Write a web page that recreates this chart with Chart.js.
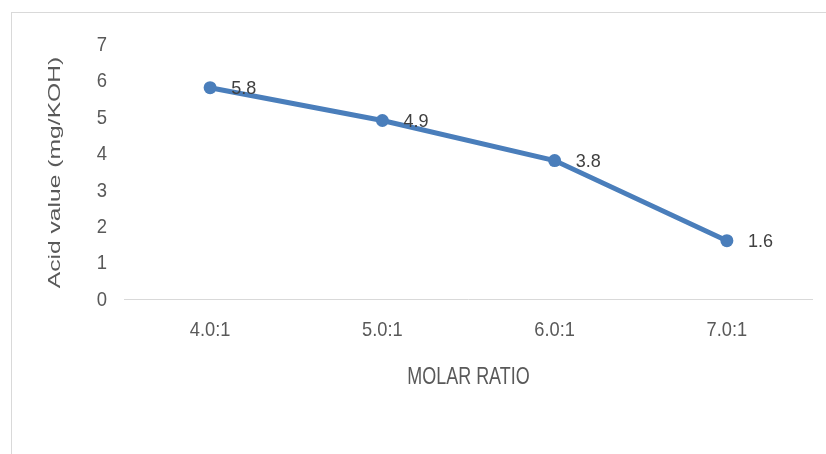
<!DOCTYPE html>
<html>
<head>
<meta charset="utf-8">
<script src="https://cdn.jsdelivr.net/npm/chart.js@4"></script>
<style>
  html, body { margin: 0; padding: 0; background: #fff; }
  #wrap { position: relative; width: 826px; height: 454px; overflow: hidden; }
  #frame { position: absolute; left: 11px; top: 12px; width: 900px; height: 600px; border: 1px solid #d9d9d9; box-sizing: border-box; }
  canvas { position: absolute; left: 0; top: 0; }
</style>
</head>
<body>
<div id="wrap">
  <div id="frame"></div>
  <canvas id="chart" width="826" height="454"></canvas>
</div>
<script>
const ratios = ['4.0:1', '5.0:1', '6.0:1', '7.0:1'];
const acidValues = [5.8, 4.9, 3.8, 1.6];
const yMin = 0, yMax = 7, yStep = 1;
const xTitle = 'MOLAR RATIO';
const yTitle = 'Acid value (mg/KOH)';

const lineColor = '#4a7ebb';
const textColor = '#595959';
const sans = '"Liberation Sans", Arial, sans-serif';
const clear = 'rgba(0,0,0,0)';

// the source text is tall and narrow, so squeeze it sideways
function drawNarrow(ctx, text, x, y, size, squeeze, align, color) {
    ctx.save();
    ctx.translate(x, y);
    ctx.scale(squeeze, 1);
    ctx.font = size + 'px ' + sans;
    ctx.fillStyle = color;
    ctx.textAlign = align;
    ctx.textBaseline = 'middle';
    ctx.fillText(text, 0, 0);
    ctx.restore();
}

const textLayer = {
    id: 'textLayer',
    afterDraw(chart) {
        const ctx = chart.ctx;
        const area = chart.chartArea;
        const xs = chart.scales.x, ys = chart.scales.y;

        ys.ticks.forEach((t, i) => {
            drawNarrow(ctx, String(t.value), area.left - 17, ys.getPixelForTick(i) + 1, 21, 0.88, 'right', textColor);
        });
        xs.ticks.forEach((t, i) => {
            drawNarrow(ctx, ratios[i], xs.getPixelForTick(i), area.bottom + 31, 21, 0.87, 'center', textColor);
        });
        drawNarrow(ctx, xTitle, (area.left + area.right) / 2, area.bottom + 79, 23, 0.78, 'center', textColor);

        // rotated y title, stretched along its length
        ctx.save();
        ctx.translate(55, (area.top + area.bottom) / 2 + 1);
        ctx.rotate(-Math.PI / 2);
        ctx.scale(1.45, 1);
        ctx.font = '17px ' + sans;
        ctx.fillStyle = textColor;
        ctx.textAlign = 'center';
        ctx.textBaseline = 'middle';
        ctx.fillText(yTitle, 0, 0);
        ctx.restore();

        // value labels to the right of each point
        chart.getDatasetMeta(0).data.forEach((pt, i) => {
            drawNarrow(ctx, String(acidValues[i]), pt.x + 21, pt.y + 1, 19, 0.95, 'left', '#404040');
        });
    }
};

new Chart(document.getElementById('chart'), {
    type: 'line',
    data: {
        labels: ratios,
        datasets: [{
            data: acidValues,
            borderColor: lineColor,
            backgroundColor: lineColor,
            borderWidth: 5,
            pointRadius: 6.5,
            pointHoverRadius: 6.5,
            pointBorderWidth: 0,
            tension: 0
        }]
    },
    options: {
        responsive: false,
        animation: false,
        layout: { padding: { left: 0, top: 44, right: 13, bottom: 0 } },
        plugins: { legend: { display: false }, tooltip: { enabled: false } },
        scales: {
            x: {
                offset: true,
                grid: { display: false, drawTicks: false },
                border: { display: false },
                ticks: { color: clear, font: { family: sans, size: 21 } },
                afterFit(scale) { scale.height = 155; }
            },
            y: {
                min: yMin, max: yMax,
                grid: {
                    drawTicks: false,
                    color: c => c.tick && c.tick.value === 0 ? '#d9d9d9' : clear
                },
                border: { display: false },
                ticks: { stepSize: yStep, color: clear, font: { family: sans, size: 21 } },
                afterFit(scale) { scale.width = 124; }
            }
        }
    },
    plugins: [textLayer]
});
</script>
</body>
</html>
